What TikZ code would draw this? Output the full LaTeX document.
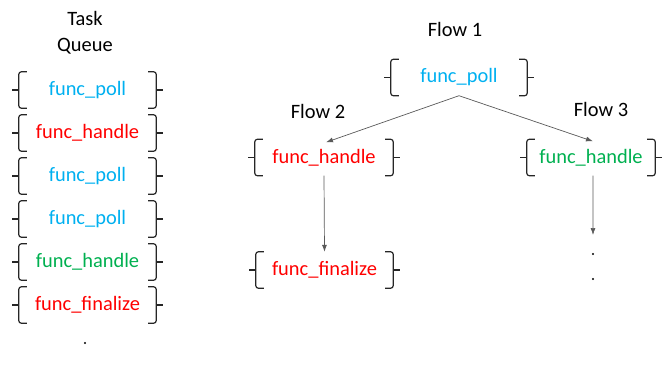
\documentclass[tikz,border=0pt]{standalone}
\usepackage{fontspec}
\setmainfont{Carlito}
\usetikzlibrary{arrows.meta}

\definecolor{pollblue}{RGB}{0,176,240}
\definecolor{handlered}{RGB}{255,0,0}
\definecolor{handlegreen}{RGB}{0,176,80}

\begin{document}
\begin{tikzpicture}[x=1bp, y=-1bp,
    every node/.style={font=\fontsize{20.5}{26}\selectfont},
    task/.style={minimum width=137bp, minimum height=36bp, inner sep=0pt},
    bracket/.style={line width=1.2bp, black!85, rounded corners=2.5bp},
    arrow/.style={-{Latex[length=7bp,width=5bp]}, black!65, line width=0.7bp}]
    \useasboundingbox (0,0) rectangle (668,367);

    % task queue
    \node[align=center] (queue) at (85,33) {Task\\Queue};
    \node[task, text=pollblue] (q1) at (87.5,90) {func\_poll};
    \node[task, text=handlered] (q2) at (87.5,133) {func\_handle};
    \node[task, text=pollblue] (q3) at (87.5,176) {func\_poll};
    \node[task, text=pollblue] (q4) at (87.5,219) {func\_poll};
    \node[task, text=handlegreen] (q5) at (87.5,262) {func\_handle};
    \node[task, text=handlered] (q6) at (87.5,305) {func\_finalize};
    \fill (85,343) circle (1.2bp);

    % flows
    \node (flow1) at (455,29) {Flow 1};
    \node (flow2) at (318,111.5) {Flow 2};
    \node (flow3) at (601,109.5) {Flow 3};
    \node[task, minimum width=136bp, text=pollblue] (poll) at (459,77.5) {func\_poll};
    \node[task, minimum width=138bp, text=handlered] (handle2) at (324,157.5) {func\_handle};
    \node[task, minimum width=128bp, text=handlegreen] (handle3) at (591,157.5) {func\_handle};
    \node[task, text=handlered] (finalize) at (324.5,270) {func\_finalize};
    \coordinate (more) at (593,235);

    \foreach \n in {q1,q2,q3,q4,q5,q6,poll,handle2,handle3,finalize} {
        \draw[bracket] ([xshift=8bp]\n.north west) -| (\n.south west) -- ++(8bp,0pt);
        \draw[bracket] ([xshift=-8bp]\n.north east) -| (\n.south east) -- ++(-8bp,0pt);
        \draw[bracket] (\n.west) -- ++(-7bp,0pt);
        \draw[bracket] (\n.east) -- ++(7bp,0pt);
    }

    \draw[arrow] (poll.south) -- ([xshift=2bp,yshift=-3bp]handle2.north);
    \draw[arrow] (poll.south) -- ([xshift=2bp,yshift=-2bp]handle3.north);
    \draw[arrow] (handle2.south) -- (finalize.north);
    \draw[arrow] ([xshift=2bp]handle3.south) -- (more);
    \fill (593,254) circle (1.2bp);
    \fill (593,279) circle (1.2bp);
\end{tikzpicture}
\end{document}
